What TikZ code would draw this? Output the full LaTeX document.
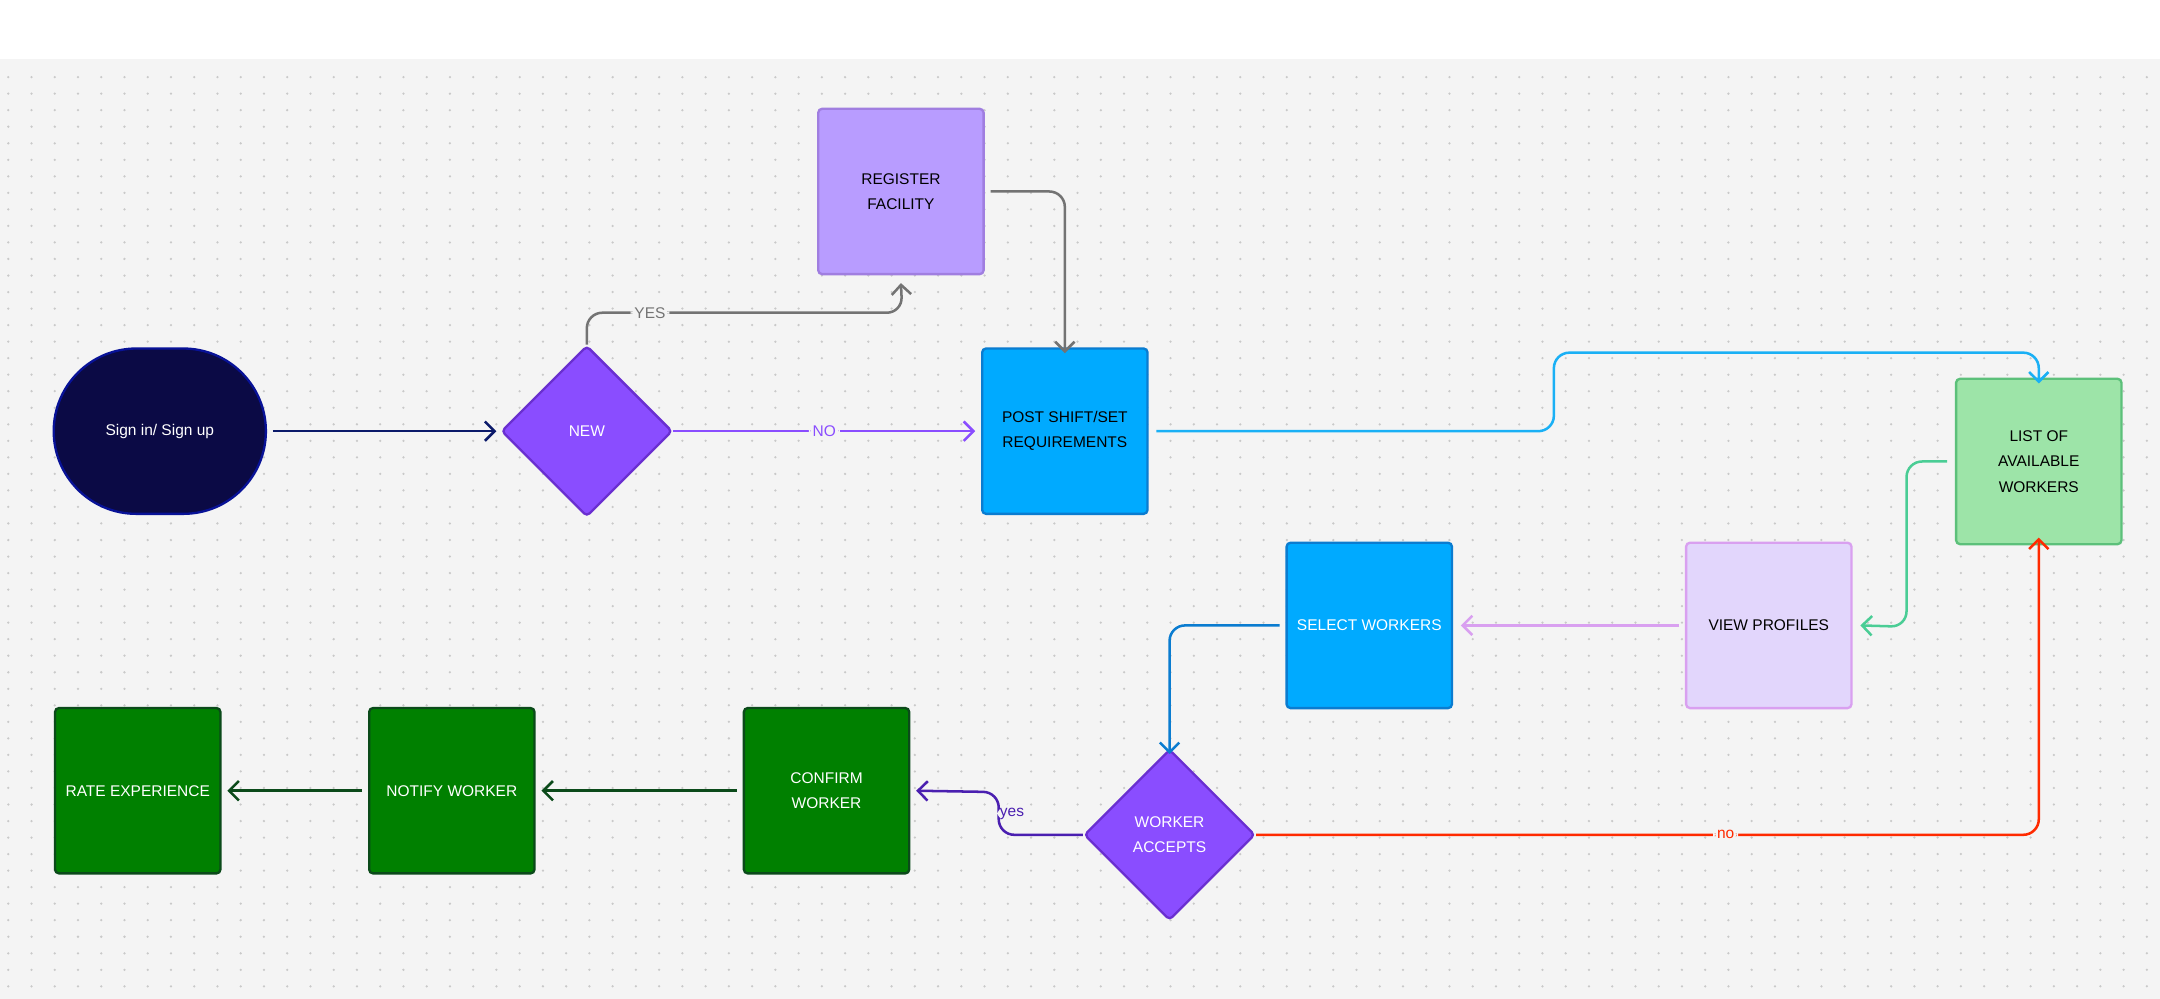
\documentclass[tikz,border=0pt]{standalone}
\usepackage{fontspec}
\setmainfont{Liberation Sans}
\usetikzlibrary{arrows.meta,positioning,shapes.geometric}
\definecolor{canvas}{HTML}{F4F4F4}
\definecolor{dotc}{HTML}{C9C9C9}
\definecolor{navy}{HTML}{0B0A45}
\definecolor{navyline}{HTML}{0B1A6A}
\definecolor{violet}{HTML}{8A4DFF}
\definecolor{violetdk}{HTML}{6A2FD0}
\definecolor{lilac}{HTML}{B89CFF}
\definecolor{lilacdk}{HTML}{A07EE0}
\definecolor{skyblue}{HTML}{00AAFF}
\definecolor{skydk}{HTML}{0A7CD0}
\definecolor{cyanline}{HTML}{1AB0F5}
\definecolor{mint}{HTML}{9DE4A8}
\definecolor{mintdk}{HTML}{5CC07A}
\definecolor{pale}{HTML}{E2D6FC}
\definecolor{paledk}{HTML}{D9A0F0}
\definecolor{leaf}{HTML}{008000}
\definecolor{leafdk}{HTML}{0B4A1A}
\definecolor{indigo}{HTML}{4A1FB0}
\definecolor{alert}{HTML}{FF2A00}
\begin{document}
\begin{tikzpicture}
[
	              x = 0.025cm, y = -0.025cm,
	            >= {Straight Barb[length=5pt,width=10pt]},
	    box/.style = { draw, line width=1.2pt, rounded corners=2pt, minimum size=3cm,
	                   align=center, font=\fontsize{8}{13}\selectfont },
	 choice/.style = { box, diamond, shape aspect=1, minimum size=3.1cm, text=white },
	   link/.style = { ->, line width=1.3pt, rounded corners=8pt },
	    tag/.style = { fill=canvas, inner sep=2pt, font=\fontsize{8}{10}\selectfont }
]
	% canvas
	\useasboundingbox (0,0) rectangle (1568,725);
	\fill [canvas] (0,43) rectangle (1568,725);
	\foreach \y in {56,68,...,720}
		\draw [dotc, line width=1.3pt, line cap=round, dash pattern=on 0pt off 12pt] (6,\y) -- (1568,\y);

	% nodes
	\node (sign)    at (116,313) [box, minimum width=3.85cm, rounded corners=1.5cm, fill=navy, draw=navyline!70!blue, text=white] {Sign in/ Sign up};
	\node (new)     at (426,313) [choice, fill=violet, draw=violetdk] {NEW};
	\node (reg)     at (654,139) [box, fill=lilac, draw=lilacdk] {REGISTER\\FACILITY};
	\node (post)    at (773,313) [box, fill=skyblue, draw=skydk] {POST SHIFT/SET\\REQUIREMENTS};
	\node (list)    at (1480,335) [box, fill=mint, draw=mintdk] {LIST OF\\AVAILABLE\\WORKERS};
	\node (view)    at (1284,454) [box, fill=pale, draw=paledk] {VIEW PROFILES};
	\node (select)  at (994,454) [box, fill=skyblue, draw=skydk, text=white] {SELECT WORKERS};
	\node (accepts) at (849,606) [choice, fill=violet, draw=violetdk] {WORKER\\ACCEPTS};
	\node (confirm) at (600,574) [box, fill=leaf, draw=leafdk, text=white] {CONFIRM\\WORKER};
	\node (notify)  at (328,574) [box, fill=leaf, draw=leafdk, text=white] {NOTIFY WORKER};
	\node (rate)    at (100,574) [box, fill=leaf, draw=leafdk, text=white] {RATE EXPERIENCE};

	% edges
	\draw [link, navyline] ([xshift=3pt]sign.east) -- ([xshift=-2pt]new.west);
	\draw [link, violet] (new.east) -- node [tag] {NO} ([xshift=-3pt]post.west);
	\draw [link, black!55] (new.north) |- node [tag, pos=0.6] {YES} (655,227) -- ([yshift=-4pt]reg.south);
	\draw [link, black!55] ([xshift=3pt]reg.east) -| ([yshift=-3pt]post.north);
	\draw [link, cyanline] ([xshift=4pt]post.east) -| (1128,256) -| ([yshift=-3pt]list.north);
	\draw [link, mintdk!80!cyan] ([xshift=-4pt]list.west) -| (1384,455) -- ([xshift=4pt]view.east);
	\draw [link, paledk] ([xshift=-3pt]view.west) -- ([xshift=4pt]select.east);
	\draw [link, skydk] ([xshift=-3pt]select.west) -| ([yshift=-3pt]accepts.north);
	\draw [link, indigo] (accepts.west) -| node [tag, pos=0.75, right=-2pt] {yes} (725,575) -- ([xshift=3pt]confirm.east);
	\draw [link, alert] (accepts.east) -| node [tag, pos=0.3] {no} ([yshift=4pt]list.south);
	\draw [link, leafdk] ([xshift=-3pt]confirm.west) -- ([xshift=3pt]notify.east);
	\draw [link, leafdk] ([xshift=-3pt]notify.west) -- ([xshift=3pt]rate.east);
\end{tikzpicture}
\end{document}
